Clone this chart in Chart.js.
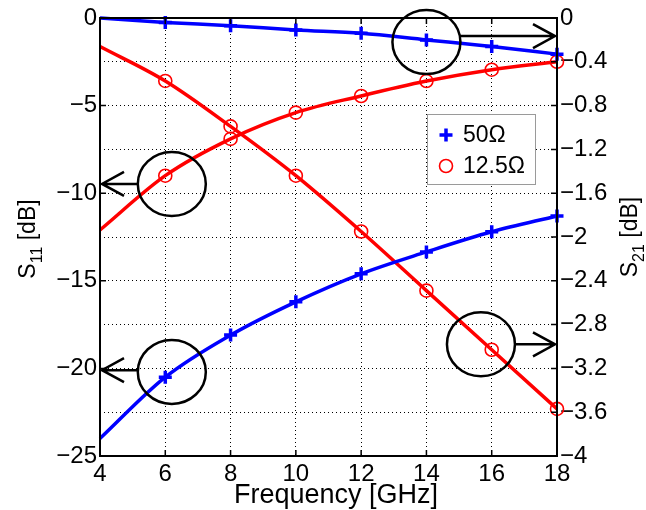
<!DOCTYPE html>
<html>
<head>
<meta charset="utf-8">
<script src="https://cdn.jsdelivr.net/npm/chart.js@4.4.1/dist/chart.umd.min.js"></script>
<style>
  html, body { margin: 0; padding: 0; background: #fff; }
  #wrap { width: 646px; height: 510px; }
</style>
</head>
<body>
<div id="wrap"><canvas id="sParams"></canvas></div>
<script>
// Frequency sweep [GHz]; the first sample (4 GHz) carries no marker
const freqGHz = [4, 6, 8, 10, 12, 14, 16, 18];

// S11 [dB] (left axis)
const s11_50 = [-24.0, -20.5, -18.1, -16.2, -14.6, -13.35, -12.2, -11.3];
const s11_125 = [-12.1, -9.0, -6.9, -5.4, -4.45, -3.6, -2.95, -2.5];

// S21 [dB] (right axis)
const s21_50 = [0.0, -0.04, -0.07, -0.11, -0.14, -0.2, -0.26, -0.33];
const s21_125 = [-0.26, -0.575, -0.99, -1.44, -1.95, -2.49, -3.03, -3.57];

const legendNames = ['50\u03A9', '12.5\u03A9'];

const FONT = '"Liberation Sans", Arial, Helvetica, sans-serif';
const BLUE = '#0000ff';
const RED = '#ff0000';

const pts = ys => ys.map((y, i) => ({ x: freqGHz[i], y: y }));
const noFirst = ctx => ctx.dataIndex === 0 ? 0 : 6.5;

function fmt(v) {
    const n = Number(v.toFixed(1));
    return String(n).replace('-', '\u2212');
}

// circle + arrow callouts: which curve belongs to which axis
const callouts = [
    { axis: 'y',  cx: 6.2,  cy: -9.47,  ay: -9.47, dir: 'left' },
    { axis: 'y',  cx: 6.2,  cy: -20.2,  ay: -20.1, dir: 'left' },
    { axis: 'y2', cx: 14.0, cy: -0.22,  ay: -0.165, dir: 'right' },
    { axis: 'y2', cx: 15.67, cy: -2.98, ay: -2.98, dir: 'right' },
];

const framePlugin = {
    id: 'frame',
    afterDraw(chart) {
        const { ctx, chartArea: a, scales } = chart;
        ctx.save();

        // axes box
        ctx.strokeStyle = '#000';
        ctx.lineWidth = 2;
        ctx.strokeRect(a.left, a.top, a.right - a.left, a.bottom - a.top);

        // inward tick marks
        ctx.lineWidth = 1.5;
        ctx.beginPath();
        scales.x.ticks.forEach(t => {
            const px = scales.x.getPixelForValue(t.value);
            ctx.moveTo(px, a.bottom); ctx.lineTo(px, a.bottom - 6);
            ctx.moveTo(px, a.top); ctx.lineTo(px, a.top + 6);
        });
        scales.y.ticks.forEach(t => {
            const py = scales.y.getPixelForValue(t.value);
            ctx.moveTo(a.left, py); ctx.lineTo(a.left + 6, py);
        });
        scales.y2.ticks.forEach(t => {
            const py = scales.y2.getPixelForValue(t.value);
            ctx.moveTo(a.right, py); ctx.lineTo(a.right - 6, py);
        });
        ctx.stroke();

        // callout circles and arrows
        ctx.lineWidth = 2.5;
        callouts.forEach(c => {
            const rx = 34, ry = 32;
            const cx = scales.x.getPixelForValue(c.cx);
            const cy = scales[c.axis].getPixelForValue(c.cy);
            const ay = scales[c.axis].getPixelForValue(c.ay);
            ctx.beginPath();
            ctx.ellipse(cx, cy, rx, ry, 0, 0, Math.PI * 2);
            ctx.stroke();
            const dy = ay - cy;
            const ex = rx * Math.sqrt(Math.max(0, 1 - (dy / ry) * (dy / ry)));
            const start = c.dir === 'left' ? cx - ex : cx + ex;
            const tip = c.dir === 'left' ? a.left + 2 : a.right - 2;
            const s = c.dir === 'left' ? 1 : -1;
            ctx.beginPath();
            ctx.moveTo(start, ay); ctx.lineTo(tip, ay);
            ctx.moveTo(tip + s * 22, ay - 12); ctx.lineTo(tip, ay); ctx.lineTo(tip + s * 22, ay + 12);
            ctx.stroke();
        });

        // legend box
        const lx = a.right - 130, ly = a.top + 96, lw = 108, lh = 70;
        ctx.fillStyle = '#fff';
        ctx.fillRect(lx, ly, lw, lh);
        ctx.strokeStyle = '#9a9a9a';
        ctx.lineWidth = 1;
        ctx.strokeRect(lx + 0.5, ly + 0.5, lw, lh);

        const mx = lx + 19;
        const row1 = ly + 21, row2 = ly + 52;
        ctx.strokeStyle = BLUE;
        ctx.lineWidth = 3.5;
        ctx.beginPath();
        ctx.moveTo(mx - 6.5, row1); ctx.lineTo(mx + 6.5, row1);
        ctx.moveTo(mx, row1 - 6.5); ctx.lineTo(mx, row1 + 6.5);
        ctx.stroke();
        ctx.strokeStyle = RED;
        ctx.lineWidth = 1.6;
        ctx.beginPath();
        ctx.arc(mx, row2, 6.5, 0, Math.PI * 2);
        ctx.stroke();

        ctx.fillStyle = '#000';
        ctx.font = '23px ' + FONT;
        ctx.textAlign = 'left';
        ctx.textBaseline = 'middle';
        ctx.fillText(legendNames[0], lx + 36, row1 + 1);
        ctx.fillText(legendNames[1], lx + 36, row2 + 1);

        // axis titles
        ctx.font = '27px ' + FONT;
        ctx.textAlign = 'center';
        ctx.textBaseline = 'alphabetic';
        ctx.fillText('Frequency [GHz]', 336, 503);

        const midY = (a.top + a.bottom) / 2;
        vTitle(ctx, 35, midY + 2, 'S', '11', ' [dB]');
        vTitle(ctx, 637, midY, 'S', '21', ' [dB]');

        ctx.restore();
    }
};

// rotated label with subscript, reading bottom-to-top
function vTitle(ctx, x, y, main, sub, rest) {
    const big = '23px ' + FONT, small = '16px ' + FONT;
    ctx.save();
    ctx.translate(x, y);
    ctx.rotate(-Math.PI / 2);
    ctx.textAlign = 'left';
    ctx.textBaseline = 'alphabetic';
    ctx.font = big;
    const w1 = ctx.measureText(main).width, w3 = ctx.measureText(rest).width;
    ctx.font = small;
    const w2 = ctx.measureText(sub).width;
    let px = -(w1 + w2 + w3) / 2;
    ctx.fillStyle = '#000';
    ctx.font = big;
    ctx.fillText(main, px, 0); px += w1;
    ctx.font = small;
    ctx.fillText(sub, px, 7); px += w2;
    ctx.font = big;
    ctx.fillText(rest, px, 0);
    ctx.restore();
}

const lineSet = (data, color, axis, style, bw) => ({
    data: pts(data),
    yAxisID: axis,
    clip: false,
    borderColor: color,
    borderWidth: 3.5,
    backgroundColor: 'transparent',
    pointStyle: style,
    pointRadius: noFirst,
    pointBorderWidth: bw,
    pointBorderColor: color,
    pointBackgroundColor: 'transparent',
    cubicInterpolationMode: 'monotone',
    fill: false,
});

new Chart(document.getElementById('sParams'), {
    type: 'line',
    data: {
        datasets: [
            lineSet(s11_50, BLUE, 'y', 'cross', 3.5),
            lineSet(s21_50, BLUE, 'y2', 'cross', 3.5),
            lineSet(s11_125, RED, 'y', 'circle', 1.6),
            lineSet(s21_125, RED, 'y2', 'circle', 1.6),
        ]
    },
    options: {
        responsive: true,
        maintainAspectRatio: false,
        animation: false,
        layout: { padding: { top: 18, left: 0, right: 0, bottom: 0 } },
        plugins: {
            legend: { display: false },
            tooltip: { enabled: false },
        },
        scales: {
            x: {
                type: 'linear',
                min: 4, max: 18,
                afterFit(s) { s.height = 54; },
                ticks: {
                    stepSize: 2,
                    color: '#000',
                    font: { size: 24, family: FONT },
                    padding: 4,
                    maxRotation: 0,
                },
                grid: { color: '#000', lineWidth: 1, drawTicks: false },
                border: { display: false, dash: [1, 3] },
            },
            y: {
                position: 'left',
                min: -25, max: 0,
                afterFit(s) { s.width = 100; },
                ticks: {
                    stepSize: 5,
                    color: '#000',
                    font: { size: 24, family: FONT },
                    padding: 3,
                    callback: v => fmt(v),
                },
                grid: { display: false, drawTicks: false },
                border: { display: false },
            },
            y2: {
                position: 'right',
                min: -4, max: 0,
                afterFit(s) { s.width = 89; },
                ticks: {
                    stepSize: 0.4,
                    color: '#000',
                    font: { size: 24, family: FONT },
                    padding: 3,
                    callback: v => fmt(v),
                },
                grid: { color: '#000', lineWidth: 1, drawTicks: false },
                border: { display: false, dash: [1, 3] },
            },
        }
    },
    plugins: [framePlugin],
});
</script>
</body>
</html>
